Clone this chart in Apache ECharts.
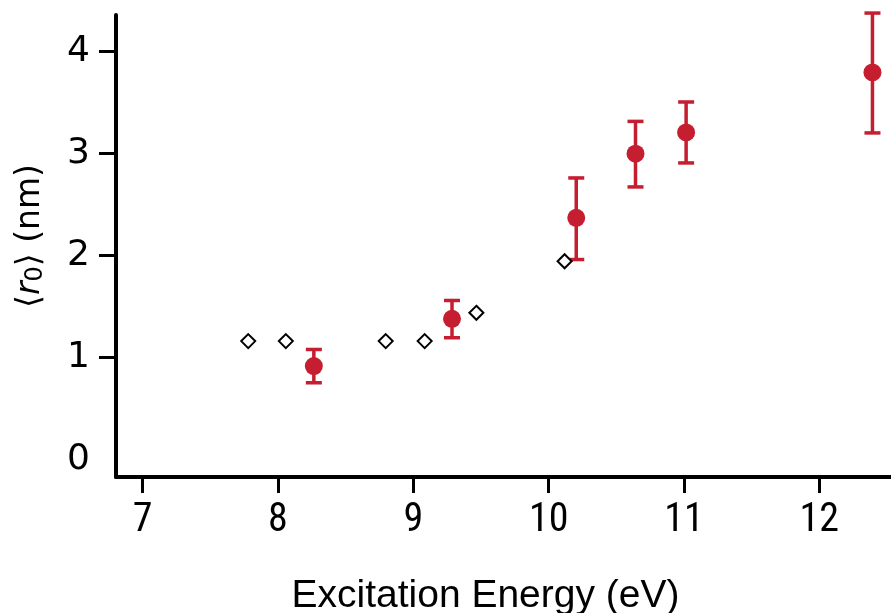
<!DOCTYPE html>
<html>
<head>
<meta charset="utf-8">
<script src="https://cdn.jsdelivr.net/npm/echarts@6/dist/echarts.min.js"></script>
<style>html,body{margin:0;padding:0;background:#fff;}#c{width:891px;height:613px;}</style>
</head>
<body>
<div id="c"></div>
<script>
// Measured points (with error bars)
const measEnergy = [8.265, 9.286, 10.204, 10.642, 11.016, 12.393];
const measR0     = [0.918, 1.381, 2.370, 2.999, 3.207, 3.795];
const measLow    = [0.755, 1.196, 1.962, 2.673, 2.908, 3.202];
const measHigh   = [1.081, 1.561, 2.761, 3.315, 3.505, 4.376];
// Open diamonds
const diaEnergy  = [7.780, 8.058, 8.796, 9.084, 9.466, 10.118];
const diaR0      = [1.163, 1.163, 1.163, 1.163, 1.440, 1.945];
// Tick labels
const xTicks = [7, 8, 9, 10, 11, 12];
const yLabels = [0, 1, 2, 3, 4];
const yTicks = [1, 2, 3, 4];

const RED = '#C41E30';
const measPts = measEnergy.map((x, i) => [x, measR0[i]]);
const errPts = measEnergy.map((x, i) => [x, measLow[i], measHigh[i]]);
const diaPts = diaEnergy.map((x, i) => [x, diaR0[i]]);

const xFont = "'Liberation Sans Narrow', 'Roboto Condensed', 'DejaVu Sans Condensed', 'Liberation Sans', sans-serif";
const titleFont = "'Liberation Sans', Arial, sans-serif";
const yFont = "'DejaVu Sans', Verdana, sans-serif";

const chart = echarts.init(document.getElementById('c'), null, {renderer: 'canvas'});
chart.setOption({
  animation: false,
  backgroundColor: '#fff',
  grid: {left: 116, right: 0, top: 15, bottom: 136, containLabel: false, outerBoundsMode: 'none'},
  xAxis: {
    type: 'value', min: 6.803, max: 12.53,
    name: 'Excitation Energy (eV)', nameLocation: 'middle', nameGap: 100,
    nameTextStyle: {fontFamily: titleFont, fontSize: 39, color: '#000', padding: [0, 36, 0, 0]},
    axisLine: {onZero: false, lineStyle: {color: '#000', width: 4}},
    axisTick: {show: true, customValues: xTicks, length: 16, lineStyle: {color: '#000', width: 3}},
    axisLabel: {customValues: xTicks, fontFamily: xFont, fontSize: 40, color: '#000', margin: 24},
    splitLine: {show: false}
  },
  yAxis: {
    type: 'value', min: -0.168, max: 4.357,
    name: '{a|⟨}{i|r}{s|0}{a|⟩ (nm)}', nameLocation: 'middle', nameGap: 68, nameRotate: 90,
    nameTextStyle: {
      fontFamily: yFont, fontSize: 33, color: '#000', padding: [0, 0, 0, 20],
      rich: {
        a: {fontFamily: yFont, fontSize: 33, color: '#000'},
        i: {fontFamily: yFont, fontSize: 33, fontStyle: 'italic', color: '#000'},
        s: {fontFamily: yFont, fontSize: 24, color: '#000', padding: [12, 0, 0, 0]}
      }
    },
    axisLine: {show: true, onZero: false, lineStyle: {color: '#000', width: 4}},
    axisTick: {show: true, customValues: yTicks, length: 17, lineStyle: {color: '#000', width: 3}},
    axisLabel: {customValues: yLabels, fontFamily: yFont, fontSize: 36, color: '#000', margin: 26},
    splitLine: {show: false}
  },
  series: [
    {
      type: 'custom',
      clip: false,
      data: errPts,
      renderItem: function (params, api) {
        const x = api.value(0);
        const lo = api.coord([x, api.value(1)]);
        const hi = api.coord([x, api.value(2)]);
        const w = 8;
        const st = {stroke: RED, lineWidth: 3.5};
        return {
          type: 'group',
          children: [
            {type: 'line', shape: {x1: lo[0], y1: lo[1], x2: hi[0], y2: hi[1]}, style: st},
            {type: 'line', shape: {x1: lo[0] - w, y1: lo[1], x2: lo[0] + w, y2: lo[1]}, style: st},
            {type: 'line', shape: {x1: hi[0] - w, y1: hi[1], x2: hi[0] + w, y2: hi[1]}, style: st}
          ]
        };
      },
      z: 2
    },
    {
      type: 'scatter', data: measPts, symbol: 'circle', symbolSize: 18,
      itemStyle: {color: RED, opacity: 1}, z: 3, clip: false
    },
    {
      type: 'scatter', data: diaPts, symbol: 'diamond', symbolSize: [14, 14],
      itemStyle: {color: '#fff', borderColor: '#000', borderWidth: 2, opacity: 1}, z: 4
    }
  ]
});
</script>
</body>
</html>
